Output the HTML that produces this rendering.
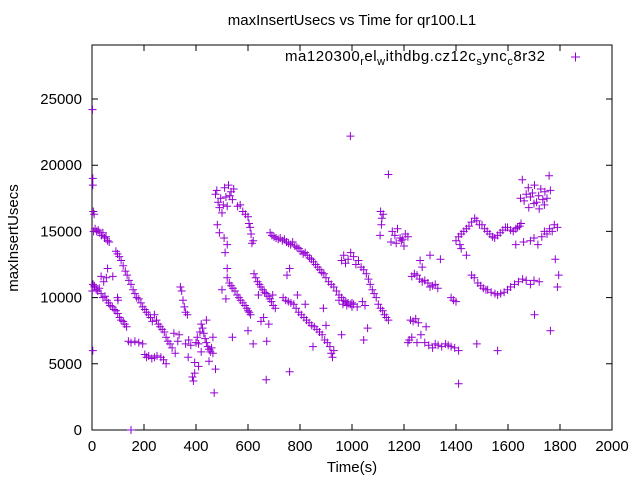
<!DOCTYPE html>
<html><head><meta charset="utf-8"><style>
html,body{margin:0;padding:0;background:#fff;}
svg text{font-family:"Liberation Sans",sans-serif;fill:#000;}
</style></head><body>
<svg id="chart" width="640" height="480" viewBox="0 0 640 480" xmlns="http://www.w3.org/2000/svg">
<rect width="640" height="480" fill="#fff"/>
<text x="352" y="25" font-size="15" text-anchor="middle">maxInsertUsecs vs Time for qr100.L1</text>
<text x="352" y="472" font-size="15" text-anchor="middle">Time(s)</text>
<text transform="translate(18,238) rotate(-90)" font-size="15" text-anchor="middle">maxInsertUsecs</text>
<g id="axes"></g>
<g id="points"></g>
<g>
<text x="285" y="61" font-size="15" textLength="260" lengthAdjust="spacing">ma120300<tspan font-size="11" dy="4">r</tspan><tspan dy="-4">el</tspan><tspan font-size="11" dy="4">w</tspan><tspan dy="-4">ithdbg.cz12c</tspan><tspan font-size="11" dy="4">s</tspan><tspan dy="-4">ync</tspan><tspan font-size="11" dy="4">c</tspan><tspan dy="-4">8r32</tspan></text>
<path d="M571,57h9M575.5,52.5v9" stroke="#9400d3" stroke-width="1"/>
</g>
</svg>
<script>
const xTicks = [0,200,400,600,800,1000,1200,1400,1600,1800,2000];
const yTicks = [0,5000,10000,15000,20000,25000];
const times = [
2,3,3,5,8,4,3,1,6,9,
12,18,24,30,36,42,48,54,60,66,
92,98,105,112,120,128,135,142,150,158,
165,172,180,188,195,203,210,218,225,232,
240,248,255,262,270,278,285,292,300,308,
10,16,22,28,35,42,50,57,64,70,
78,85,92,99,106,112,120,126,133,80,
35,45,55,98,100,60,140,150,165,180,
195,203,210,218,230,240,250,265,275,285,
330,335,340,345,350,355,360,367,372,380,
386,390,395,400,405,410,415,420,425,430,
435,440,445,450,455,460,465,470,475,150,
315,320,360,370,395,410,420,440,450,465,
475,480,485,490,495,500,505,510,515,520,
525,530,535,540,545,482,490,508,512,520,
560,570,580,590,600,604,608,612,615,620,
520,528,535,542,550,558,565,572,580,588,
595,600,605,610,500,520,515,540,600,620,
623,630,637,644,650,657,664,670,677,684,
690,697,705,640,660,680,695,672,670,650,
685,692,700,708,716,724,732,740,748,756,
764,772,780,788,796,804,812,820,828,836,
844,852,860,868,876,884,892,900,910,920,
930,940,950,960,968,976,985,995,1006,1000,
735,745,755,765,776,785,795,805,815,825,
835,845,855,865,875,885,895,905,915,930,
750,760,790,820,850,900,920,925,890,760,
960,968,975,985,995,1006,1015,1025,1035,1045,
1055,1063,1070,1078,1085,1093,1101,1110,1118,1125,
1132,1140,950,965,980,1000,1020,1040,1050,1060,
994,1140,1110,1113,1115,1120,1108,1155,1165,1175,
1185,1195,1205,1215,1170,1190,1200,1150,960,1045,
1230,1240,1250,1260,1270,1280,1292,1300,1310,1320,
1330,1225,1235,1245,1255,1215,1220,1230,1250,1265,
1280,1295,1310,1320,1331,1345,1360,1370,1381,1395,
1381,1390,1400,1410,1340,1300,1262,1270,1285,1410,
1400,1410,1420,1430,1440,1450,1460,1472,1480,1490,
1500,1510,1520,1530,1540,1549,1560,1570,1580,1590,
1598,1610,1620,1630,1637,1645,1420,1415,1440,1460,
1470,1484,1495,1505,1515,1522,1535,1550,1560,1572,
1585,1598,1610,1625,1640,1656,1670,1686,1700,1720,
1648,1655,1662,1670,1678,1686,1694,1702,1710,1718,
1726,1734,1742,1750,1758,1763,1680,1700,1720,1740,
1686,1700,1715,1730,1740,1750,1760,1770,1778,1790,
1763,1702,1782,1790,1795,1660,1650,1560,1480,1630
];
const values = [
24200,19000,18500,16500,16300,11000,6000,10500,15000,10900,
15200,15000,15100,14900,14700,14900,14500,14600,14300,14200,
13500,13300,13100,12800,12400,12000,11700,11300,11000,10600,
10300,10000,9900,9600,9300,9100,8900,8700,8500,8200,
8700,8300,8000,7800,7600,7400,7000,6700,6500,6200,
10800,10600,10500,10700,10300,10000,10100,9800,9600,9400,
9300,9100,9000,8800,8500,8300,8200,8000,7800,11600,
11600,11200,11500,10000,9800,12200,6700,6600,6700,6600,
6500,5700,5500,5600,5400,5500,5600,5500,5300,5000,
6700,7200,10800,10500,9800,9300,8900,8700,6800,6400,
4000,3700,4300,6600,7000,6500,7400,8000,7700,7300,
6900,6600,6300,6100,5900,6200,5800,2800,4600,0,
7300,5800,6500,5500,5100,4800,5900,8300,5200,7000,
17800,18100,17200,16800,17500,16400,17000,18300,17600,16900,
18500,17700,18000,17400,18200,15500,14900,14500,13400,14000,
16900,17000,16500,16300,16100,15600,15300,14800,14100,14300,
11500,11100,10900,10700,10500,10200,10000,9800,9600,9400,
9200,9000,8900,8700,10600,12200,9900,7000,7500,6500,
11800,11500,11200,11000,10800,10600,10400,10300,10100,9900,
9700,9400,9200,10200,8500,8000,10200,6700,3800,8200,
14900,14700,14600,14500,14400,14500,14300,14400,14200,14100,
14000,14200,13900,13800,13700,13500,13300,13400,13200,13000,
12900,12700,12500,12300,12100,11900,11800,11500,11200,11000,
10800,10500,10200,10000,9800,9700,9600,9500,9500,9300,
10000,9800,9700,9600,9500,9200,8900,8700,8500,8300,
8100,7900,7800,7600,7400,7200,6800,6600,6300,6000,
11700,12200,10200,9500,6300,7900,5800,5500,9200,4400,
12800,13200,12600,12900,13400,13100,12500,12800,12300,12100,
11800,11400,11000,10600,10300,10000,9500,9200,9000,8700,
8500,8300,9800,9500,9400,9600,9300,9700,9400,7700,
22200,19300,16500,15500,16000,16300,14700,15000,14700,15200,
14500,14400,14800,14600,14100,14300,13900,14200,7200,6800,
11600,11800,11700,11400,11200,11300,11100,10800,10900,11000,
10700,8300,8200,8400,8100,6600,6800,7000,6600,7200,
6600,6400,6200,6500,6400,6300,6500,6400,6300,6200,
10000,9800,9700,3500,12900,13200,12800,12300,7800,6000,
14300,14600,14800,15000,15200,15400,15700,16000,15800,15500,
15500,15200,15000,14800,14600,14500,14700,14900,15100,15300,
15300,15100,15000,15200,15300,15400,13700,14000,13200,11700,
11500,11100,10900,10700,10600,10600,10400,10300,10200,10300,
10400,10600,10800,11000,11200,11400,11300,11000,11300,11200,
17500,18900,17300,17800,18300,17600,17900,18500,17200,17700,
18200,17400,18000,17500,19200,18100,16800,17100,16700,17000,
14300,14500,14000,14600,15000,14800,15200,15000,15500,15300,
7500,8700,12900,10800,11700,14200,15600,6000,6500,14000
];
const L=92,R=612,T=45,B=430;
function xs(t){return L+t/2000*(R-L);}
function ys(v){return B-v*0.01324;}
const NS='http://www.w3.org/2000/svg';
const axes=document.getElementById('axes');
const f=document.createElementNS(NS,'rect');
f.setAttribute('x',L);f.setAttribute('y',T);f.setAttribute('width',R-L);f.setAttribute('height',B-T);
f.setAttribute('fill','none');f.setAttribute('stroke','#000');f.setAttribute('stroke-width','1');


axes.appendChild(f);
xTicks.forEach(t=>{
  const x=xs(t);
  const p=document.createElementNS(NS,'path');
  p.setAttribute('d',`M${x},${B}v-6M${x},${T}v6`);p.setAttribute('stroke','#000');
  
  
  axes.appendChild(p);
  const tx=document.createElementNS(NS,'text');
  tx.setAttribute('x',x);tx.setAttribute('y',451);tx.setAttribute('font-size','15');tx.setAttribute('text-anchor','middle');
  tx.textContent=t;
  
  
  axes.appendChild(tx);
});
yTicks.forEach(v=>{
  const y=ys(v);
  const p=document.createElementNS(NS,'path');
  p.setAttribute('d',`M${L},${y}h6M${R},${y}h-6`);p.setAttribute('stroke','#000');
  
  
  axes.appendChild(p);
  const tx=document.createElementNS(NS,'text');
  tx.setAttribute('x',82);tx.setAttribute('y',y+5);tx.setAttribute('font-size','15');tx.setAttribute('text-anchor','end');
  tx.textContent=v;
  
  
  axes.appendChild(tx);
});
const pts=document.getElementById('points');
let d='';
for(let i=0;i<times.length;i++){
  const x=xs(times[i]),y=ys(values[i]);
  d+=`M${(x-4).toFixed(1)},${y.toFixed(1)}h8M${x.toFixed(1)},${(y-4).toFixed(1)}v8`;
}
const pp=document.createElementNS(NS,'path');
pp.setAttribute('d',d);pp.setAttribute('stroke','#9400d3');pp.setAttribute('stroke-width','1');pp.setAttribute('fill','none');


pts.appendChild(pp);
</script>
</body></html>
